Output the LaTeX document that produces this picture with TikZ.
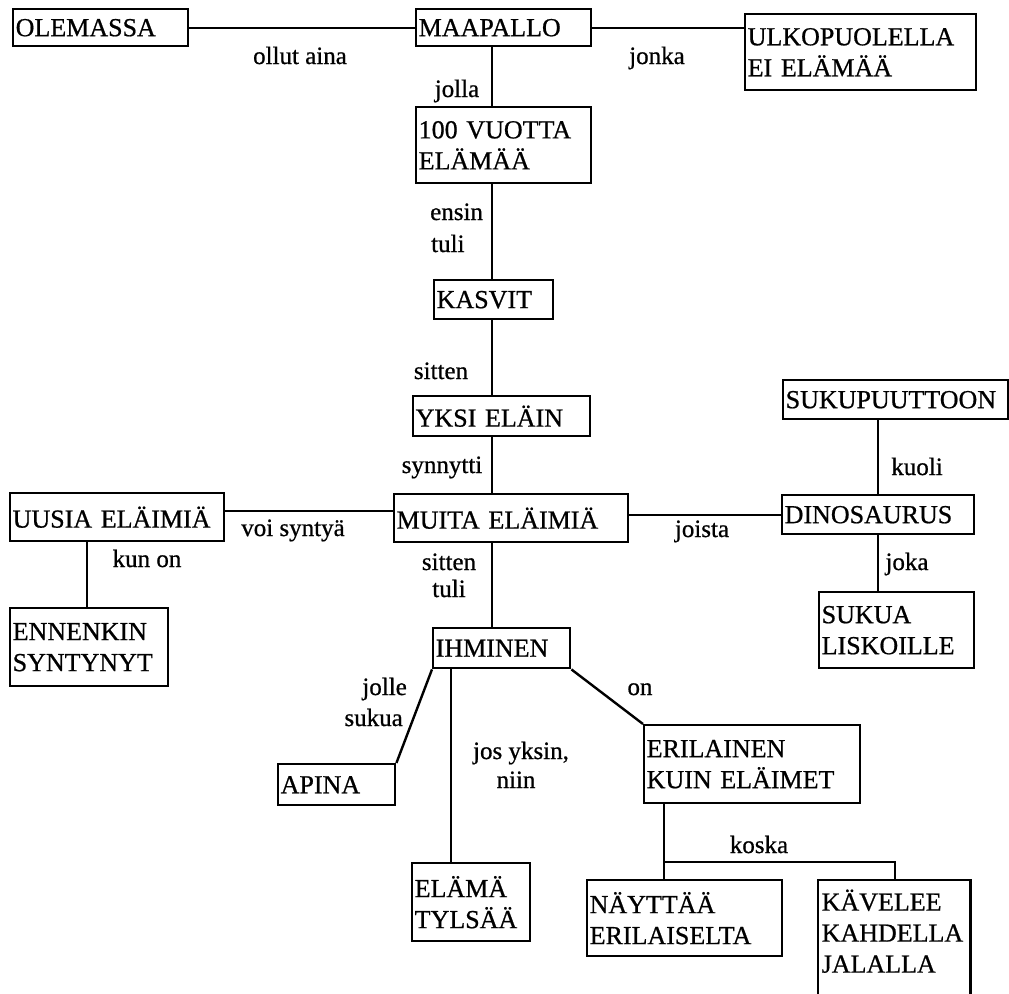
\documentclass[tikz,border=0pt]{standalone}
\usepackage{fontspec}
\setmainfont{Liberation Serif}
\newfontfamily\inkfont[RawFeature={embolden=0.7}]{Liberation Serif}
\begin{document}
\begin{tikzpicture}[x=1pt,y=-1pt,
  box/.style={draw, line width=2.4pt, rectangle, anchor=north west,
    inner xsep=2.5pt, inner ysep=0pt, align=left,
    font=\inkfont\fontsize{26}{31}\selectfont},
  lbl/.style={font=\inkfont\fontsize{25}{29}\selectfont, inner sep=0pt, anchor=base},
  link/.style={line width=2.4pt}]
\useasboundingbox[fill=white] (0,0) rectangle (1009,993);

% concept boxes: position = top-left corner
\node[box, minimum width=175pt, minimum height=37pt, text width=170pt] (olemassa) at (12,8) {OLEMASSA};
\node[box, minimum width=175pt, minimum height=37pt, text width=170pt] (maapallo) at (415,8) {MAAPALLO};
\node[box, minimum width=231pt, minimum height=76pt, text width=226pt] (ulko) at (744,13) {ULKOPUOLELLA\\EI ELÄMÄÄ};
\node[box, minimum width=175pt, minimum height=76pt, text width=170pt] (vuotta) at (415,106) {100 VUOTTA\\ELÄMÄÄ};
\node[box, minimum width=119pt, minimum height=39pt, text width=114pt] (kasvit) at (433,279) {KASVIT};
\node[box, minimum width=177pt, minimum height=40pt, text width=172pt] (yksi) at (412,395) {YKSI ELÄIN};
\node[box, minimum width=234pt, minimum height=48pt, text width=229pt] (muita) at (393,493) {MUITA ELÄIMIÄ};
\node[box, minimum width=214pt, minimum height=48pt, text width=209pt] (uusia) at (9,492) {UUSIA ELÄIMIÄ};
\node[box, minimum width=158pt, minimum height=78pt, text width=153pt] (ennen) at (9,607) {ENNENKIN\\SYNTYNYT};
\node[box, minimum width=225pt, minimum height=39pt, text width=220pt] (sukupuu) at (782,379) {SUKUPUUTTOON};
\node[box, minimum width=192pt, minimum height=39pt, text width=187pt] (dino) at (781,494) {DINOSAURUS};
\node[box, minimum width=155pt, minimum height=76pt, text width=150pt] (sukua) at (818,591) {SUKUA\\LISKOILLE};
\node[box, minimum width=137pt, minimum height=40pt, text width=132pt] (ihminen) at (432,627) {IHMINEN};
\node[box, minimum width=117pt, minimum height=41pt, text width=112pt] (apina) at (277,763) {APINA};
\node[box, minimum width=118pt, minimum height=78pt, text width=113pt] (elama) at (411,862) {ELÄMÄ\\TYLSÄÄ};
\node[box, minimum width=216pt, minimum height=78pt, text width=211pt] (erilainen) at (643,724) {ERILAINEN\\KUIN ELÄIMET};
\node[box, minimum width=195pt, minimum height=76pt, text width=190pt] (nayttaa) at (586,879) {NÄYTTÄÄ\\ERILAISELTA};
% this box runs past the lower edge, so only three sides are stroked
\node[box, draw=none, minimum width=150pt, minimum height=100pt, text width=145pt] (kavelee) at (818,880) {KÄVELEE\\KAHDELLA\\JALALLA};
\draw[link] ([yshift=-30pt]kavelee.south west) -- (kavelee.north west) -- (kavelee.north east) -- ([yshift=-30pt]kavelee.south east);

% columns and rows the connectors run along
\coordinate (spine) at (492,0);
\coordinate (leftcol) at (87,0);
\coordinate (midcol) at (451,0);
\coordinate (dinocol) at (878,0);
\coordinate (toprow) at (0,28);
\coordinate (midrow) at (0,511);
\coordinate (fork) at (664,862);
\coordinate (forkr) at (895,862);

% connectors
\draw[link] (olemassa.east |- toprow) -- (maapallo.west |- toprow);
\draw[link] (maapallo.east |- toprow) -- (ulko.west |- toprow);
\draw[link] (maapallo.south -| spine) -- (vuotta.north -| spine);
\draw[link] (vuotta.south -| spine) -- (kasvit.north -| spine);
\draw[link] (kasvit.south -| spine) -- (yksi.north -| spine);
\draw[link] (yksi.south -| spine) -- (muita.north -| spine);
\draw[link] (muita.south -| spine) -- (ihminen.north -| spine);
\draw[link] (uusia.east |- midrow) -- (muita.west |- midrow);
\draw[link] (uusia.south -| leftcol) -- (ennen.north -| leftcol);
\draw[link] (muita.east |- dino.west) -- (dino.west);
\draw[link] (sukupuu.south -| dinocol) -- (dino.north -| dinocol);
\draw[link] (dino.south -| dinocol) -- (sukua.north -| dinocol);
\draw[link] (ihminen.south west) -- (apina.north east);
\draw[link] (ihminen.south -| midcol) -- (elama.north -| midcol);
\draw[link] (ihminen.south east) -- (erilainen.north west);
\draw[link] (erilainen.south -| fork) -- (nayttaa.north -| fork);
\draw[link] (fork) -- (forkr) -- (kavelee.north -| forkr);

% connector labels
\node[lbl] (l1) at (300,64) {ollut aina};
\node[lbl] (l2) at (657,64) {jonka};
\node[lbl] (l3) at (457,97) {jolla};
\node[lbl, anchor=base west] (l4a) at (430,220) {ensin};
\node[lbl, anchor=base west] (l4b) at (431,252) {tuli};
\node[lbl] (l5) at (441,379) {sitten};
\node[lbl] (l6) at (442,473) {synnytti};
\node[lbl] (l7) at (293,536) {voi syntyä};
\node[lbl] (l8) at (147,567) {kun on};
\node[lbl] (l9a) at (449,570) {sitten};
\node[lbl] (l9b) at (449,597) {tuli};
\node[lbl, anchor=base east] (l10a) at (407,695) {jolle};
\node[lbl, anchor=base east] (l10b) at (403,726) {sukua};
\node[lbl] (l11a) at (521,759) {jos yksin,};
\node[lbl] (l11b) at (516,788) {niin};
\node[lbl] (l12) at (640,695) {on};
\node[lbl] (l13) at (759,853) {koska};
\node[lbl] (l14) at (917,475) {kuoli};
\node[lbl] (l15) at (907,570) {joka};
\node[lbl] (l16) at (702,537) {joista};
\end{tikzpicture}
\end{document}
